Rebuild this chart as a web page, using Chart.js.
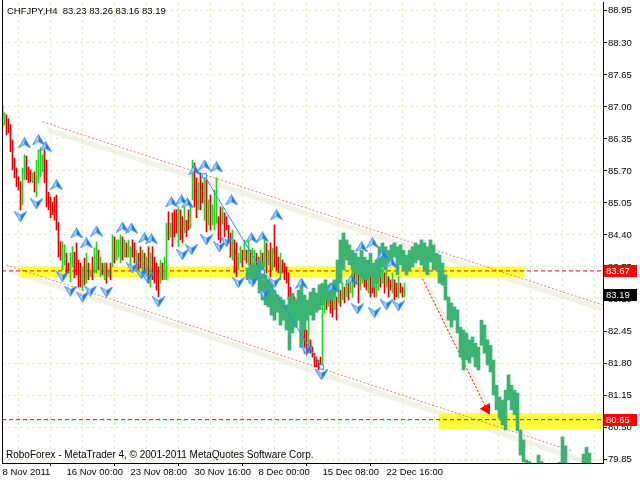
<!DOCTYPE html>
<html><head><meta charset="utf-8">
<script src="https://cdn.jsdelivr.net/npm/chart.js@4.4.0/dist/chart.umd.min.js"></script>
<style>html,body{margin:0;padding:0;background:#fff;overflow:hidden}canvas{display:block}</style>
</head><body>
<canvas id="c" width="640" height="480"></canvas>
<script>
// ---------------- data ----------------
const symbolTitle = 'CHFJPY,H4  83.23 83.26 83.16 83.19';
const footerText = 'RoboForex - MetaTrader 4, \u00A9 2001-2011 MetaQuotes Software Corp.';
const timeLabels = ['8 Nov 2011','16 Nov 00:00','23 Nov 08:00','30 Nov 16:00','8 Dec 00:00','15 Dec 08:00','22 Dec 16:00'];
const priceTicks = [79.85,80.50,81.15,81.80,82.45,83.10,83.75,84.40,85.05,85.70,86.35,87.00,87.65,88.30,88.95];

const barHigh = [
87.02,86.88,86.84,86.76,86.64,86.33,85.96,85.76,85.58,85.48,
85.76,86.03,86.00,85.78,85.72,85.66,85.68,85.92,86.13,86.17,
86.03,86.13,85.92,85.27,85.17,85.07,85.17,85.21,84.66,84.26,
84.26,84.20,84.03,83.83,84.03,84.16,84.05,84.24,83.89,83.83,
83.75,83.93,84.03,83.83,83.69,83.95,84.14,84.26,84.09,83.95,
83.83,83.83,83.83,83.69,83.83,84.40,84.36,84.30,84.30,84.40,
84.36,84.30,84.24,84.30,84.16,84.30,84.24,84.09,84.03,84.16,
84.09,84.03,83.95,84.16,84.03,84.16,83.95,83.83,83.75,83.89,
83.83,83.95,84.64,84.87,84.64,84.85,84.91,84.91,84.97,84.91,
84.77,84.97,84.70,84.91,85.01,85.92,85.86,85.56,85.46,85.66,
85.46,85.60,85.52,85.11,85.21,85.01,85.31,85.56,84.77,84.97,
84.95,84.85,84.77,84.60,84.44,84.50,84.30,84.24,84.03,84.16,
84.09,84.30,84.09,84.30,84.09,84.13,84.09,84.03,83.95,84.09,
84.03,84.30,84.24,84.09,84.24,84.13,84.60,84.16,83.95,84.03,
83.89,83.83,83.75,83.63,83.34,83.14,83.14,83.08,83.02,82.81,
82.67,82.53,82.47,82.67,82.27,82.12,82.00,81.92,81.86,81.92,
83.28,83.42,83.34,83.22,83.28,83.14,83.28,83.14,83.34,83.28,
83.42,83.34,83.49,83.42,83.49,83.69,83.63,83.75,83.69,83.85,
83.95,83.79,83.63,83.83,83.69,83.55,83.49,83.63,83.75,83.69,
83.83,83.63,83.69,83.55,83.49,83.63,83.49,83.42,83.55,83.42,
83.34,83.42];
const barLow = [
86.60,86.64,86.43,86.47,86.09,85.72,85.56,85.38,85.31,84.91,
85.01,85.52,85.52,85.46,85.48,85.46,85.27,85.17,85.46,85.58,
85.68,85.46,84.97,84.91,84.75,84.81,84.70,84.50,83.95,83.89,
83.69,83.79,83.63,83.63,83.45,83.75,83.53,83.59,83.34,83.34,
83.28,83.38,83.42,83.49,83.55,83.49,83.63,83.63,83.69,83.55,
83.59,83.49,83.42,83.55,83.49,83.75,83.83,83.89,83.95,83.83,
83.89,83.95,83.95,83.95,83.75,83.95,83.83,83.69,83.63,83.73,
83.63,83.63,83.55,83.42,83.34,83.49,83.42,83.28,83.14,83.42,
83.49,83.49,83.49,84.30,84.36,84.16,84.36,84.44,84.16,84.30,
84.24,84.44,84.36,84.50,84.54,85.11,84.97,84.75,84.91,84.91,
85.05,84.70,84.46,84.60,84.50,84.60,84.50,84.64,84.30,84.24,
84.62,84.36,84.50,84.30,83.95,83.89,83.63,83.55,83.69,83.83,
83.75,83.89,83.83,83.79,83.75,83.69,83.63,83.63,83.49,83.55,
83.59,83.75,83.63,83.79,83.55,83.69,83.75,83.69,83.63,83.49,
83.63,83.49,83.42,83.08,82.88,82.95,82.73,82.53,82.67,82.12,
82.27,82.00,82.00,82.00,82.00,81.92,81.72,81.72,81.66,81.70,
81.66,82.81,82.88,82.95,82.81,82.73,82.88,82.67,83.02,82.95,
83.08,83.02,83.14,83.08,83.22,83.14,83.34,83.42,83.02,83.28,
83.42,83.34,83.28,83.22,83.14,83.22,83.14,83.14,83.28,83.34,
83.42,83.22,83.34,83.14,83.28,83.22,83.08,83.14,83.12,83.22,
83.14,83.14];
const barDir = 'dudddddddd'+'uuddduduuu'+'uddddddddd'+'uudduudddd'+'udududuudu'+
               'dudududuuu'+'duduuddudd'+'udududdddu'+'duududddud'+'dudduuddud'+
               'dududuuudd'+'uddddudduu'+'dududuuddu'+'dudududddu'+'ddddddddud'+
               'dddudddddd'+'uududdudud'+'ududuududu'+'udduddduud'+'ududduddud'+'du';

const fcHigh = [
83.73,83.79,83.83,83.79,83.93,83.85,83.59,83.49,83.42,83.28,
83.18,83.14,83.08,82.98,83.14,83.22,83.08,83.28,83.39,83.18,
83.08,83.24,83.32,83.22,83.39,83.42,83.49,83.39,83.42,83.49,
83.89,84.30,84.44,84.30,84.20,84.09,84.03,83.95,84.09,83.95,
83.89,84.03,83.83,83.89,84.16,84.24,84.16,84.09,84.20,84.24,
84.16,84.20,84.09,83.99,84.09,84.16,84.24,84.20,84.30,84.24,
84.16,84.30,84.20,84.03,83.99,83.83,83.59,83.14,83.02,82.94,
82.88,82.53,82.47,82.41,82.27,82.33,82.20,82.12,82.67,82.57,
82.27,82.16,81.86,81.35,81.11,81.05,81.25,81.56,81.35,81.25,
81.19,80.44,80.24,79.83,79.80,79.70,79.74,79.93,79.80,79.70,
79.65,79.62,79.68,79.72,79.78,80.30,80.12,79.76,79.70,79.66,
79.72,79.76,79.95,80.09,79.97];
const fcLow = [
83.49,83.42,83.42,83.49,83.22,83.08,82.98,82.94,82.77,82.67,
82.83,82.57,82.67,82.47,82.06,82.41,82.53,82.67,82.12,82.47,
82.67,82.77,82.67,82.83,82.88,82.98,83.08,83.02,83.08,83.14,
83.28,83.42,83.69,83.89,83.79,83.69,83.63,83.59,83.53,83.49,
83.49,83.55,83.34,83.42,83.55,83.75,83.69,83.83,83.83,83.95,
83.59,83.79,83.69,83.59,83.69,83.75,83.83,83.89,83.79,83.69,
83.59,83.85,83.69,83.69,83.42,83.38,83.08,82.67,82.53,82.67,
82.41,81.92,81.66,81.86,81.80,81.92,81.72,81.66,82.16,82.00,
81.76,81.62,81.15,80.85,80.68,80.54,80.44,81.05,80.85,80.75,
80.42,79.93,79.79,79.57,79.50,79.42,79.48,79.55,79.50,79.40,
79.35,79.30,79.32,79.40,79.50,79.60,79.55,79.45,79.35,79.30,
79.38,79.45,79.55,79.60,79.50];
const fcStartBar = 122.5;   // bar index where the forecast starts
const fcStepBars = 1.5;     // forecast sample spacing, in bars

const fracUpBar   = [11,18,21.5,27,37,42,47,60,64.5,71,74.5,84.5,89.5,92.5,96,101,107,114.5,124.5,130,137,149.5,165,174.5,179.5,185,190,194.5];
const fracUpPrice = [86.27,86.33,86.19,85.42,84.44,84.24,84.48,84.56,84.54,84.34,84.32,85.07,85.11,85.05,85.72,85.82,85.78,85.11,84.34,84.36,84.81,83.42,83.34,83.49,84.16,84.24,84.00,83.83];
const fracDnBar   = [9,17,30,34,40,44,52,65,69.5,72.5,78,90,94.5,102,108.5,112,118,125,131,136,152,159.5,177.5,186,192,198];
const fracDnPrice = [84.77,85.03,83.55,83.26,83.14,83.26,83.24,83.73,83.61,83.53,83.04,84.00,84.10,84.30,84.16,84.26,83.43,83.45,83.20,83.43,82.06,81.56,82.90,82.82,82.98,82.96];

const upperChannelBar = [20, 300],  upperChannelPrice = [86.70, 82.98];
const lowerChannelBar = [2, 285],   lowerChannelPrice = [83.79, 80.01];
const targetLineBar   = [210, 242], targetLinePrice   = [83.51, 80.87];
const waveBar   = [101, 130, 159.5];
const wavePrice = [85.60, 83.65, 81.72];
const levelMain = 83.67, levelTarget = 80.65, lastPrice = 83.19;
const zoneMainBar = [8.5, 261], zoneTargetBar = [218, 300.25];

// ---------------- chart ----------------
const X_MIN = -0.25, X_MAX = 300.25, Y_MIN = 79.77, Y_MAX = 89.13;
const FONT = 'Liberation Sans';
Chart.defaults.font.family = FONT;

function pts(xs, ys, dy) { return xs.map((x, i) => ({x: x, y: ys[i] + (dy || 0)})); }
function makeArrow(up) {
  const c = document.createElement('canvas'); c.width = 13; c.height = 11;
  const g = c.getContext('2d');
  if (!up) { g.translate(0, 11); g.scale(1, -1); }
  g.beginPath(); g.moveTo(6.5, 0.5); g.lineTo(0.5, 10.5); g.lineTo(6.5, 7); g.closePath();
  g.fillStyle = '#a9d0ff'; g.fill();
  g.beginPath(); g.moveTo(6.5, 0.5); g.lineTo(12.5, 10.5); g.lineTo(6.5, 7); g.closePath();
  g.fillStyle = '#1d78e6'; g.fill();
  g.beginPath(); g.moveTo(6.5, 0.5); g.lineTo(12.5, 10.5); g.lineTo(6.5, 7); g.lineTo(0.5, 10.5); g.closePath();
  g.strokeStyle = '#3a8ef0'; g.lineWidth = 1; g.stroke();
  return c;
}
const arrowUp = makeArrow(true), arrowDn = makeArrow(false);

const lineBase = {type: 'line', pointRadius: 0, tension: 0, fill: false, borderCapStyle: 'butt'};
const beige = 'rgba(225,222,196,0.4)';

const datasets = [
  // beige shadow bands
  Object.assign({}, lineBase, {order: 20, data: pts([upperChannelBar[0] + 2.5, upperChannelBar[1]], [upperChannelPrice[0] - 0.0815, upperChannelPrice[1]], -0.085), borderColor: beige, borderWidth: 5}),
  Object.assign({}, lineBase, {order: 20, data: pts([lowerChannelBar[0] + 1.5, lowerChannelBar[1] + 5], [lowerChannelPrice[0] - 0.03, lowerChannelPrice[1] - 0.1], -0.085), borderColor: beige, borderWidth: 5}),
  Object.assign({}, lineBase, {order: 20, data: pts([targetLineBar[0] + 1.5, targetLineBar[1] + 2], targetLinePrice, -0.05), borderColor: beige, borderWidth: 5}),
  // yellow zones
  Object.assign({}, lineBase, {order: 19, data: pts(zoneMainBar, [levelMain, levelMain], -0.02), borderColor: '#ffff3a', borderWidth: 11}),
  Object.assign({}, lineBase, {order: 19, data: pts(zoneTargetBar, [levelTarget, levelTarget], -0.03), borderColor: '#ffff3a', borderWidth: 16}),
  // channel and target lines
  Object.assign({}, lineBase, {order: 18, data: pts(upperChannelBar, upperChannelPrice), borderColor: '#e77a7a', borderWidth: 1, borderDash: [2, 2]}),
  Object.assign({}, lineBase, {order: 18, data: pts(lowerChannelBar, lowerChannelPrice), borderColor: '#e77a7a', borderWidth: 1, borderDash: [2, 2]}),
  Object.assign({}, lineBase, {order: 18, data: pts(targetLineBar, targetLinePrice), borderColor: '#ff0000', borderWidth: 1, borderDash: [2, 2]}),
  // horizontal levels
  Object.assign({}, lineBase, {order: 17, data: pts([X_MIN, X_MAX], [levelMain, levelMain]), borderColor: '#ff0000', borderWidth: 1, borderDash: [4, 3]}),
  Object.assign({}, lineBase, {order: 17, data: pts([X_MIN, X_MAX], [levelTarget, levelTarget]), borderColor: '#ff0000', borderWidth: 1, borderDash: [4, 3]}),
  // price bars
  {type: 'bar', order: 16, grouped: false, barThickness: 1,
   data: barLow.map((l, i) => ({x: i, y: [l, barHigh[i]]})),
   backgroundColor: barLow.map((l, i) => barDir[i] === 'u' ? '#22d322' : '#e00000'), borderWidth: 0},
  // forecast
  {type: 'bar', order: 15, grouped: false, barThickness: 3,
   data: fcLow.map((l, k) => ({x: fcStartBar + k * fcStepBars, y: [l, fcHigh[k]]})),
   backgroundColor: '#3cb371', borderWidth: 0},
  // wave line
  Object.assign({}, lineBase, {order: 14, data: pts(waveBar, wavePrice), borderColor: '#1e90ff', borderWidth: 1,
   pointRadius: 3, pointStyle: 'rect', pointBackgroundColor: '#ffffff', pointBorderColor: '#1e90ff', pointBorderWidth: 1}),
  // target arrow head
  {type: 'line', order: 13, showLine: false, data: [{x: targetLineBar[1], y: targetLinePrice[1]}],
   pointStyle: 'triangle', pointRadius: 6, pointRotation: 270, pointBackgroundColor: '#ff0000', pointBorderColor: '#ff0000'},
  // fractals
  {type: 'line', order: 12, showLine: false, data: pts(fracUpBar, fracUpPrice), pointStyle: arrowUp, pointRadius: 5},
  {type: 'line', order: 11, showLine: false, data: pts(fracDnBar, fracDnPrice), pointStyle: arrowDn, pointRadius: 5}
];

function priceBox(ctx, y, text, bg) {
  const yy = Math.round(y);
  ctx.fillStyle = bg; ctx.fillRect(604, yy - 6, 33, 12);
  ctx.fillStyle = '#ffffff'; ctx.textAlign = 'left'; ctx.textBaseline = 'middle';
  ctx.fillText(text, 606, yy + 0.5);
}

const decor = {
  id: 'decor',
  beforeDraw(chart) {
    const c = chart.ctx; c.save(); c.fillStyle = '#fff'; c.fillRect(0, 0, chart.width, chart.height); c.restore();
  },
  afterDraw(chart) {
    const c = chart.ctx, a = chart.chartArea, ys = chart.scales.y;
    c.save();
    c.strokeStyle = '#000'; c.lineWidth = 1;
    c.beginPath(); c.moveTo(a.left + 0.5, 0); c.lineTo(a.left + 0.5, a.bottom); c.stroke();
    c.font = '9.5px ' + FONT; c.fillStyle = '#000'; c.textBaseline = 'middle'; c.textAlign = 'left';
    c.fillText(symbolTitle, 7, 11);
    c.font = '10px ' + FONT;
    c.fillText(footerText, 6, 455);
    c.font = '9.5px ' + FONT;
    priceBox(c, ys.getPixelForValue(levelMain), levelMain.toFixed(2), '#ff0000');
    priceBox(c, ys.getPixelForValue(levelTarget), levelTarget.toFixed(2), '#ff0000');
    priceBox(c, ys.getPixelForValue(lastPrice), lastPrice.toFixed(2), '#000000');
    c.restore();
  }
};

new Chart(document.getElementById('c'), {
  type: 'bar',
  data: {datasets: datasets},
  options: {
    responsive: false, animation: false, devicePixelRatio: 1,
    layout: {autoPadding: false, padding: {left: 2, top: 2, right: 0, bottom: 0}},
    plugins: {legend: {display: false}, tooltip: {enabled: false}, title: {display: false}},
    scales: {
      x: {
        type: 'linear', position: 'bottom', min: X_MIN, max: X_MAX, offset: false,
        afterBuildTicks(s) { const t = []; for (let v = 0; v <= 288; v += 16) t.push({value: v}); s.ticks = t; },
        afterFit(s) { s.height = 17; s.paddingLeft = 0; s.paddingRight = 0; },
        ticks: {autoSkip: false, maxRotation: 0, minRotation: 0, align: 'start', padding: 1, color: '#000',
          font: {family: FONT, size: 9.5},
          callback: v => (v % 32 === 0 && timeLabels[v / 32]) ? timeLabels[v / 32] : ''},
        grid: {color: '#ece8cf', lineWidth: 1, tickLength: 3,
          tickColor: ctx => (ctx.tick && ctx.tick.value % 32 === 0 && timeLabels[ctx.tick.value / 32]) ? '#000' : 'rgba(0,0,0,0)'},
        border: {color: '#000', width: 1, dash: [3, 3]}
      },
      y: {
        type: 'linear', position: 'right', min: Y_MIN, max: Y_MAX,
        afterBuildTicks(s) { s.ticks = priceTicks.map(v => ({value: v})); },
        afterFit(s) { s.width = 37; s.paddingTop = 0; s.paddingBottom = 0; },
        ticks: {padding: 1, color: '#000', font: {family: FONT, size: 9.5}, callback: v => Number(v).toFixed(2)},
        grid: {color: '#ece8cf', lineWidth: 1, tickLength: 4, tickColor: '#000'},
        border: {color: '#000', width: 1, dash: [3, 3]}
      }
    }
  },
  plugins: [decor]
});
</script>
</body></html>
